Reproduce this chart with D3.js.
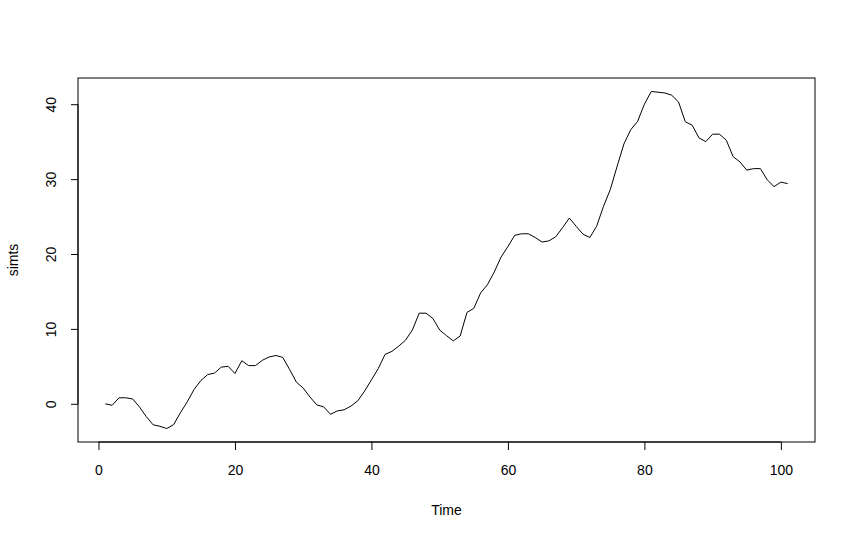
<!DOCTYPE html>
<html>
<head>
<meta charset="utf-8">
<script src="https://cdn.jsdelivr.net/npm/d3@7"></script>
<style>
  body { margin: 0; background: #fff; }
  text { font-family: "Liberation Sans", Arial, sans-serif; fill: #000; }
</style>
</head>
<body>
<div id="chart"></div>
<script>
// simulated series (Time = 1..101)
const simts = [
  0.0, -0.2, 0.8, 0.8, 0.65, -0.4, -1.7, -2.8, -3.0, -3.3,
  -2.8, -1.2, 0.25, 1.9, 3.1, 3.9, 4.1, 4.9, 5.0, 4.05,
  5.75, 5.1, 5.1, 5.8, 6.25, 6.45, 6.2, 4.6, 2.9, 2.1,
  0.9, -0.15, -0.4, -1.4, -0.95, -0.8, -0.3, 0.4, 1.7, 3.2,
  4.7, 6.6, 7.0, 7.7, 8.5, 9.85, 12.1, 12.1, 11.4, 9.85,
  9.1, 8.4, 9.05, 12.2, 12.75, 14.8, 15.9, 17.6, 19.6, 21.0,
  22.5, 22.7, 22.7, 22.2, 21.6, 21.75, 22.3, 23.5, 24.8, 23.7,
  22.65, 22.2, 23.7, 26.35, 28.6, 31.7, 34.7, 36.6, 37.7, 40.0,
  41.7, 41.6, 41.5, 41.2, 40.3, 37.65, 37.2, 35.5, 35.0, 36.0,
  36.0, 35.2, 33.0, 32.3, 31.2, 31.4, 31.4, 29.9, 29.0, 29.6,
  29.4
];
const times = simts.map((_, i) => i + 1);
const xTicks = [0, 20, 40, 60, 80, 100];
const yTicks = [0, 10, 20, 30, 40];

const width = 855, height = 540;
const box = { left: 78, right: 815, top: 78, bottom: 442 };
const fontSize = '14px';

const svg = d3.select('#chart').append('svg')
  .attr('width', width).attr('height', height);

// R pads the data range by 4% on each side
function padded(ext) {
  const d = (ext[1] - ext[0]) * 0.04;
  return [ext[0] - d, ext[1] + d];
}

const x = d3.scaleLinear().domain(padded(d3.extent(times))).range([box.left, box.right]);
const y = d3.scaleLinear().domain(padded(d3.extent(simts))).range([box.bottom, box.top]);

const line = d3.line()
  .x((d, i) => x(times[i]))
  .y(d => y(d));

svg.append('path')
  .datum(simts)
  .attr('d', line)
  .attr('fill', 'none')
  .attr('stroke', '#000')
  .attr('stroke-width', 1);

// plot frame
svg.append('rect')
  .attr('x', box.left).attr('y', box.top)
  .attr('width', box.right - box.left).attr('height', box.bottom - box.top)
  .attr('fill', 'none').attr('stroke', '#000').attr('stroke-width', 1);

// x axis
const xAxis = svg.append('g')
  .attr('transform', `translate(0,${box.bottom})`)
  .call(d3.axisBottom(x).tickValues(xTicks).tickSize(8).tickPadding(15).tickSizeOuter(0));
xAxis.select('.domain').attr('d', `M${x(0)},0H${x(100)}`);
xAxis.selectAll('text').style('font-size', fontSize).style('font-family', '"Liberation Sans", Arial, sans-serif');

// y axis, labels parallel to the axis like R
const yAxis = svg.append('g')
  .attr('transform', `translate(${box.left},0)`)
  .call(d3.axisLeft(y).tickValues(yTicks).tickSize(7).tickSizeOuter(0));
yAxis.select('.domain').attr('d', `M0,${y(0)}V${y(40)}`);
yAxis.selectAll('text')
  .style('font-size', fontSize)
  .style('font-family', '"Liberation Sans", Arial, sans-serif')
  .attr('x', null).attr('dy', null)
  .attr('text-anchor', 'middle')
  .attr('dominant-baseline', 'central')
  .attr('transform', 'translate(-27,0) rotate(-90)');

// axis titles
svg.append('text')
  .attr('x', (box.left + box.right) / 2).attr('y', 515)
  .attr('text-anchor', 'middle')
  .style('font-size', fontSize)
  .text('Time');

svg.append('text')
  .attr('transform', `translate(18,${(box.top + box.bottom) / 2}) rotate(-90)`)
  .attr('text-anchor', 'middle')
  .style('font-size', fontSize)
  .text('simts');
</script>
</body>
</html>
